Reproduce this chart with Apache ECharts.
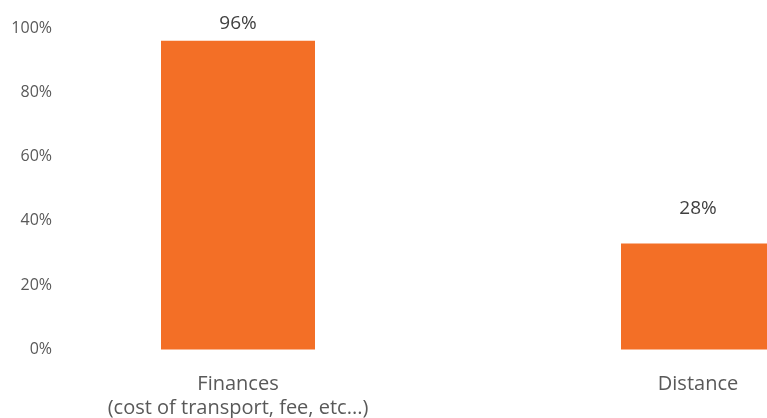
<!DOCTYPE html>
<html>
<head>
<meta charset="utf-8">
<script src="https://cdn.jsdelivr.net/npm/echarts@6/dist/echarts.min.js"></script>
<style>
  html, body { margin: 0; padding: 0; background: #fff; }
  #chart { width: 767px; height: 418px; }
</style>
</head>
<body>
<div id="chart"></div>
<script>
let categories = ['Finances\n(cost of transport, fee, etc...)', 'Distance'];
let barValues = [96, 33];
let barLabels = ['96%', '28%'];
let yTicks = [0, 20, 40, 60, 80, 100];

let labelGap = [8, 25];

let chart = echarts.init(document.getElementById('chart'), null, { renderer: 'canvas' });

// categories sit on the grid edges (boundaryGap off), so the second bar runs off the right side
let options = {
  backgroundColor: '#ffffff',
  animation: false,
  textStyle: { fontFamily: '"Open Sans", sans-serif' },
  grid: {
    left: 238,
    right: 69,
    top: 28,
    bottom: 68.5,
    containLabel: false,
    outerBoundsMode: 'none',
  },
  xAxis: {
    type: 'category',
    data: categories,
    boundaryGap: false,
    axisLine: { show: false },
    axisTick: { show: false },
    axisLabel: {
      interval: 0,
      margin: 23,
      color: '#595959',
      fontSize: 20,
      lineHeight: 24,
      fontFamily: '"Open Sans", sans-serif',
    },
  },
  yAxis: {
    type: 'value',
    min: yTicks[0],
    max: yTicks[yTicks.length - 1],
    interval: 20,
    splitLine: { show: false },
    axisLine: { show: false },
    axisTick: { show: false },
    axisLabel: {
      margin: 186,
      color: '#595959',
      fontSize: 16,
      fontFamily: '"Open Sans", sans-serif',
      formatter: (v) => v + '%',
    },
  },
  series: [
    {
      type: 'bar',
      barWidth: 154,
      itemStyle: { color: '#F36F26' },
      data: barValues.map((v, i) => ({
        value: v,
        label: { distance: labelGap[i] },
      })),
      label: {
        show: true,
        position: 'top',
        color: '#404040',
        fontSize: 19,
        fontFamily: '"Open Sans", sans-serif',
        formatter: (p) => barLabels[p.dataIndex],
      },
    },
  ],
};

chart.setOption(options);
</script>
</body>
</html>
